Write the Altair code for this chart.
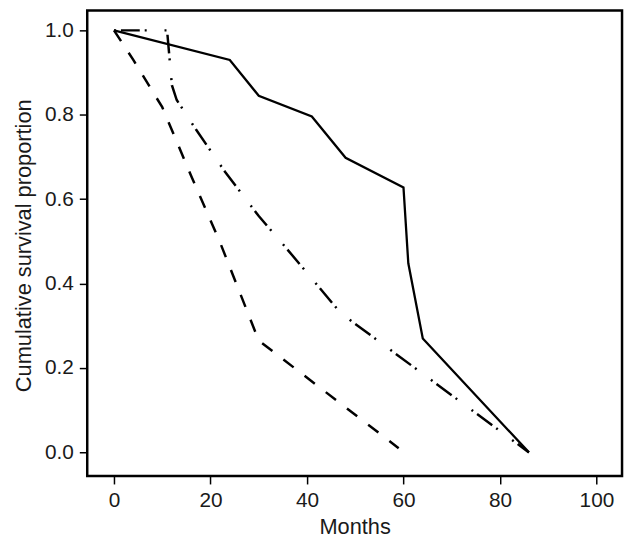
import altair as alt
import pandas as pd

# Solid curve
solid_months = [0, 24, 30, 41, 48, 60, 61, 64, 86]
solid_surv = [1.0, 0.93, 0.845, 0.796, 0.698, 0.628, 0.448, 0.27, 0.0]

# Dashed curve
dashed_months = [0, 4, 10, 16, 22, 30, 59]
dashed_surv = [1.0, 0.93, 0.818, 0.655, 0.497, 0.265, 0.01]

# Dash-dot curve
dashdot_months = [0, 11, 12, 13, 17, 23, 30, 36, 47, 86]
dashdot_surv = [1.0, 1.0, 0.87, 0.835, 0.765, 0.665, 0.56, 0.48, 0.33, 0.0]

x_ticks = [0, 20, 40, 60, 80, 100]
y_ticks = [0.0, 0.2, 0.4, 0.6, 0.8, 1.0]

FONT = "Liberation Sans"

def frame(months, surv):
    return pd.DataFrame({"Months": months, "Survival": surv})

x_enc = alt.X(
    "Months:Q",
    scale=alt.Scale(domain=[-5.55, 105.3], nice=False, zero=False),
    axis=alt.Axis(
        values=x_ticks, title="Months", titleX=270, titleY=58,
        titleBaseline="alphabetic", titleAlign="center",
    ),
)
y_enc = alt.Y(
    "Survival:Q",
    scale=alt.Scale(domain=[-0.056, 1.047], nice=False, zero=False),
    axis=alt.Axis(
        values=y_ticks, format=".1f", title="Cumulative survival proportion",
        titleAngle=-90, titleX=-57, titleY=237, titleAlign="center",
        titleBaseline="alphabetic",
    ),
)

solid = alt.Chart(frame(solid_months, solid_surv)).mark_line(
    color="black", strokeWidth=2.3
).encode(x=x_enc, y=y_enc)

dashed = alt.Chart(frame(dashed_months, dashed_surv)).mark_line(
    color="black", strokeWidth=2.5, strokeDash=[13, 14]
).encode(x=x_enc, y=y_enc)

dashdot = alt.Chart(frame(dashdot_months, dashdot_surv)).mark_line(
    color="black", strokeWidth=2.5, strokeDash=[2, 5, 19, 5, 2, 18]
).encode(x=x_enc, y=y_enc)

chart = (
    alt.layer(solid, dashed, dashdot)
    .properties(
        width=540, height=470,
        autosize=alt.AutoSizeParams(type="none"),
        padding={"left": 80, "top": 0, "right": 4, "bottom": 60},
        background="white",
    )
    .configure_view(stroke="black", strokeWidth=2.5)
    .configure_axis(
        domain=False, grid=False, ticks=True, tickColor="black", tickSize=8,
        tickWidth=1.5, labelFont=FONT, labelFontSize=21, labelColor="#1a1a1a",
        labelPadding=6, titleFont=FONT, titleFontSize=22,
        titleFontWeight="normal", titleColor="#1a1a1a",
    )
)

chart.save("out.html", embed_options={"renderer": "svg", "actions": False})
